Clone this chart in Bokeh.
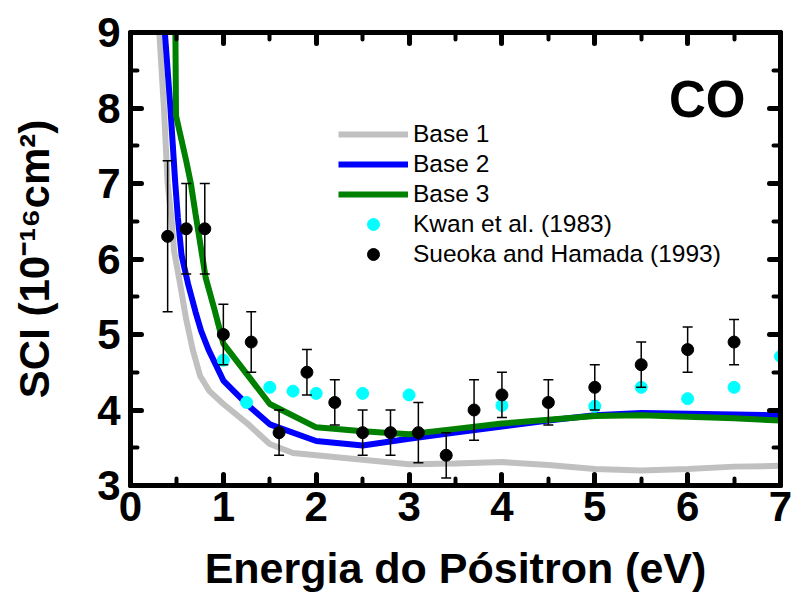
from bokeh.plotting import figure
from bokeh.models import (Range1d, LinearAxis, SingleIntervalTicker, Legend,
                          LegendItem, Label, CustomJSTickFormatter)
from bokeh.embed import file_html
from bokeh.resources import INLINE

# ---- data -------------------------------------------------------------
base1_x = [0.28, 0.31, 0.36, 0.40, 0.44, 0.47, 0.53, 0.60, 0.67, 0.75, 0.85, 1.0,
           1.25, 1.5, 1.75, 2.0, 2.5, 3.0, 3.5, 4.0, 4.5, 5.0, 5.5, 6.0, 6.5, 7.0]
base1_y = [9.6, 9.0, 8.0, 7.0, 6.55, 6.1, 5.7, 5.2, 4.8, 4.45, 4.25, 4.08,
           3.83, 3.55, 3.43, 3.40, 3.34, 3.28, 3.29, 3.31, 3.27, 3.22, 3.20, 3.22, 3.25, 3.26]

base2_x = [0.34, 0.37, 0.43, 0.48, 0.51, 0.55, 0.62, 0.70, 0.76, 0.84, 1.0, 1.25,
           1.5, 2.0, 2.5, 3.0, 3.5, 4.0, 4.5, 5.0, 5.5, 6.0, 6.5, 7.0]
base2_y = [9.6, 9.0, 8.0, 7.04, 6.55, 6.05, 5.67, 5.3, 5.05, 4.8, 4.39, 4.08,
           3.81, 3.59, 3.53, 3.62, 3.70, 3.78, 3.86, 3.93, 3.96, 3.95, 3.94, 3.93]

base3_x = [0.48, 0.49, 0.6, 0.65, 0.7, 0.81, 0.9, 1.0, 1.5, 2.0, 2.5, 3.0,
           3.5, 4.0, 4.5, 5.0, 5.5, 6.0, 6.5, 7.0]
base3_y = [9.6, 7.9, 7.3, 7.0, 6.6, 5.75, 5.35, 4.88, 4.08, 3.77, 3.72, 3.68,
           3.75, 3.82, 3.87, 3.92, 3.93, 3.91, 3.89, 3.86]

kwan_x = [1.0, 1.25, 1.5, 1.75, 2.0, 2.5, 3.0, 4.0, 5.0, 5.5, 6.0, 6.5, 7.0]
kwan_y = [4.66, 4.10, 4.30, 4.25, 4.22, 4.22, 4.20, 4.06, 4.05, 4.30, 4.15, 4.30, 4.71]

sueoka_x = [0.4, 0.6, 0.8, 1.0, 1.3, 1.6, 1.9, 2.2, 2.5, 2.8, 3.1, 3.4, 3.7,
            4.0, 4.5, 5.0, 5.5, 6.0, 6.5]
sueoka_y = [6.3, 6.4, 6.4, 5.0, 4.9, 3.7, 4.5, 4.1, 3.7, 3.7, 3.7, 3.4, 4.0,
            4.2, 4.1, 4.3, 4.6, 4.8, 4.9]
sueoka_err = [1.0, 0.6, 0.6, 0.4, 0.4, 0.3, 0.3, 0.3, 0.3, 0.3, 0.4, 0.3, 0.4,
              0.3, 0.3, 0.3, 0.3, 0.3, 0.3]

x_title = "Energia do Pósitron (eV)"
y_title = "SCI (10\u207b\u00b9\u2076cm\u00b2)"
panel_label = "CO"
series_names = ["Base 1", "Base 2", "Base 3", "Kwan et al. (1983)", "Sueoka and Hamada (1993)"]

FONT = "Liberation Sans"

# ---- figure -----------------------------------------------------------
p = figure(width=796, height=594, x_range=Range1d(0, 7), y_range=Range1d(3, 9),
           output_backend="svg", toolbar_location=None,
           min_border_left=130, min_border_right=16, min_border_top=32,
           min_border_bottom=109, x_axis_location=None, y_axis_location=None)
p.xgrid.visible = False
p.ygrid.visible = False
p.outline_line_color = "black"
p.outline_line_width = 5
p.background_fill_color = "white"
p.border_fill_color = "white"


def style_axis(ax, labels=True):
    ax.ticker = SingleIntervalTicker(interval=1, num_minor_ticks=2)
    ax.axis_line_width = 5
    ax.axis_line_color = "black"
    ax.major_tick_in = 11
    ax.major_tick_out = 0
    ax.minor_tick_in = 7
    ax.minor_tick_out = 0
    ax.major_tick_line_width = 5
    ax.minor_tick_line_width = 4
    ax.major_tick_line_cap = "round"
    ax.minor_tick_line_cap = "round"
    ax.major_tick_line_color = "black"
    ax.minor_tick_line_color = "black"
    ax.major_label_text_font = FONT
    ax.major_label_text_font_style = "bold"
    ax.major_label_text_color = "black"
    if labels:
        ax.major_label_text_font_size = "42px"
    else:
        ax.major_label_text_font_size = "1px"
        ax.formatter = CustomJSTickFormatter(code="return ''")


xb = LinearAxis()
style_axis(xb)
xb.major_label_standoff = 6
xb.major_label_text_line_height = 0.9
xb.axis_label = x_title
xb.axis_label_text_font = FONT
xb.axis_label_text_font_style = "bold"
xb.axis_label_text_font_size = "43px"
xb.axis_label_text_color = "black"
xb.axis_label_text_line_height = 0.6
xb.axis_label_standoff = 20
p.add_layout(xb, "below")

yl = LinearAxis()
style_axis(yl)
yl.major_label_standoff = 10
yl.axis_label = y_title
yl.axis_label_text_font = FONT
yl.axis_label_text_font_style = "bold"
yl.axis_label_text_font_size = "42px"
yl.axis_label_text_color = "black"
yl.axis_label_standoff = 36
p.add_layout(yl, "left")

xt = LinearAxis()
style_axis(xt, labels=False)
p.add_layout(xt, "above")

yr = LinearAxis()
style_axis(yr, labels=False)
p.add_layout(yr, "right")

# ---- glyphs -----------------------------------------------------------
r1 = p.line(base1_x, base1_y, line_color="#c0c0c0", line_width=6)
r2 = p.line(base2_x, base2_y, line_color="#0000ff", line_width=6)
r3 = p.line(base3_x, base3_y, line_color="#008000", line_width=6)

rk = p.scatter(kwan_x, kwan_y, marker="circle", size=12, fill_color="#00ffff",
               line_color="#00ffff")

lo = [y - e for y, e in zip(sueoka_y, sueoka_err)]
hi = [y + e for y, e in zip(sueoka_y, sueoka_err)]
p.segment(x0=sueoka_x, y0=lo, x1=sueoka_x, y1=hi, line_color="black", line_width=1.5)
p.scatter(sueoka_x, lo, marker="dash", size=10, line_color="black", line_width=1.5)
p.scatter(sueoka_x, hi, marker="dash", size=10, line_color="black", line_width=1.5)
rs = p.scatter(sueoka_x, sueoka_y, marker="circle", size=12, fill_color="black",
               line_color="black")

# ---- legend -----------------------------------------------------------
legend = Legend(items=[LegendItem(label=series_names[0], renderers=[r1]),
                       LegendItem(label=series_names[1], renderers=[r2]),
                       LegendItem(label=series_names[2], renderers=[r3]),
                       LegendItem(label=series_names[3], renderers=[rk]),
                       LegendItem(label=series_names[4], renderers=[rs])],
                location=(208, 216))
legend.label_text_font = FONT
legend.label_text_font_size = "24.5px"
legend.label_text_color = "black"
legend.glyph_width = 70
legend.glyph_height = 30
legend.label_height = 30
legend.label_standoff = 5
legend.spacing = 0
legend.padding = 0
legend.margin = 0
legend.border_line_color = None
legend.background_fill_alpha = 0
p.add_layout(legend)

# ---- texts ------------------------------------------------------------
p.add_layout(Label(x=615, y=386, x_units="screen", y_units="screen", text=panel_label,
                   text_font=FONT, text_font_style="bold", text_font_size="51px",
                   text_align="right", text_baseline="alphabetic", text_color="black"))

open("out.html", "w").write(file_html(p, INLINE))
